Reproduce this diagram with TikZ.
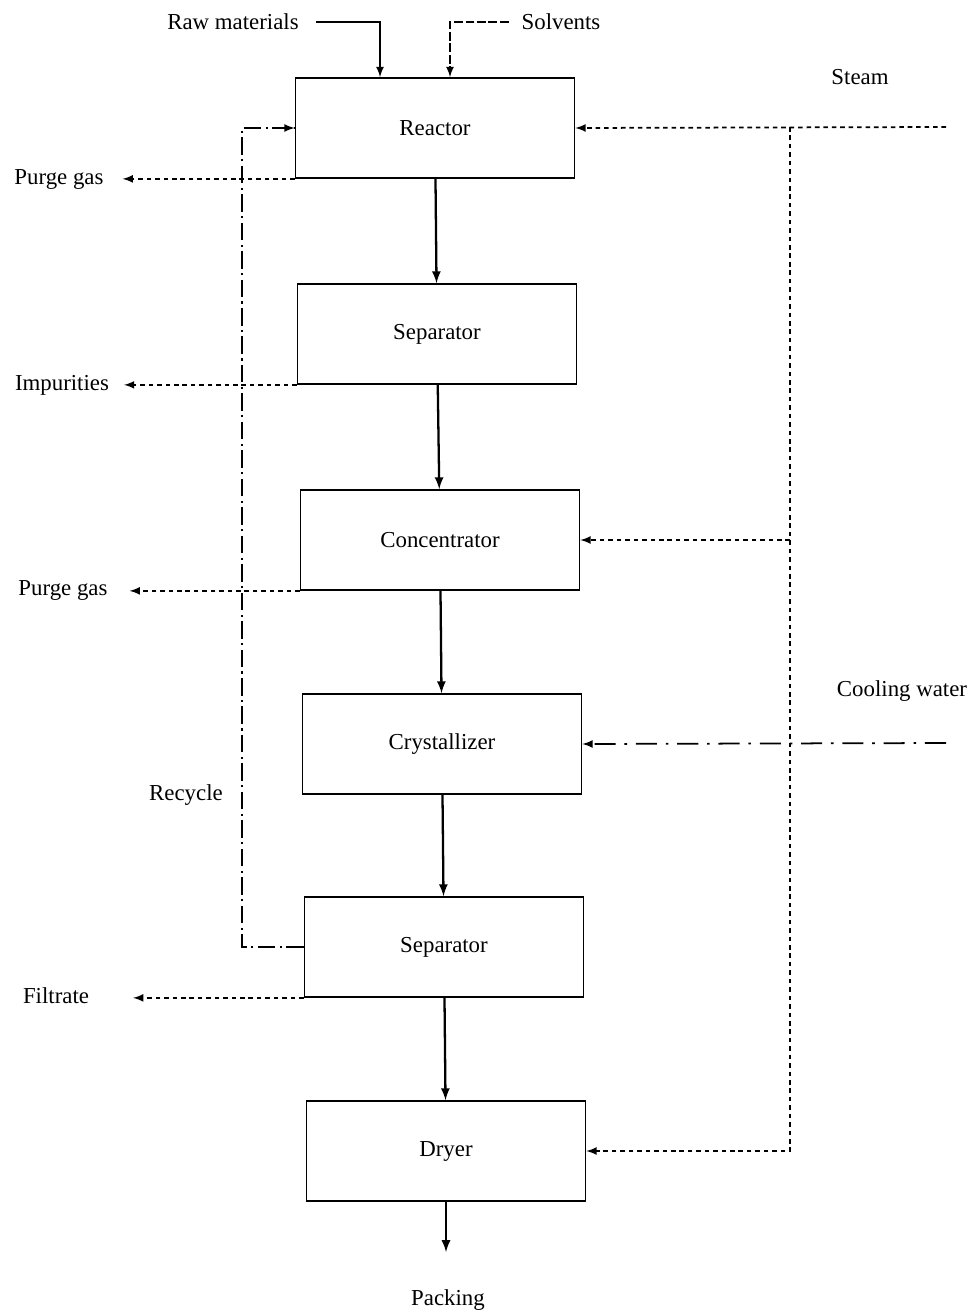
\documentclass[tikz,border=0pt]{standalone}
\usepackage{fontspec}
\setmainfont{Liberation Serif}
\usetikzlibrary{arrows}
\tikzset{
      unit/.style={draw=black, line width=1.0, minimum width=5.58cm, minimum height=2.0cm,
            font=\fontsize{13}{15}\selectfont},
      lbl/.style={font=\fontsize{13}{15}\selectfont, inner sep=1pt},
      flow/.style={draw=black, line width=1.3, -latex},
      feed/.style={draw=black, line width=1.0, -latex},
      sfeed/.style={draw=black, line width=1.0, dash pattern=on 5pt off 1.5pt, -latex},
      steamline/.style={draw=black, line width=1.0, dash pattern=on 2.6pt off 2.2pt, -latex},
      waste/.style={draw=black, line width=1.0, dash pattern=on 2.6pt off 2.2pt, -latex},
      coolline/.style={draw=black, line width=1.0, dash pattern=on 12pt off 5pt on 1.5pt off 5pt, -latex},
      recycleline/.style={draw=black, line width=1.0, dash pattern=on 10pt off 2.5pt on 1.2pt off 2.5pt},
}
\begin{document}
\begin{tikzpicture}[x=0.02cm, y=-0.02cm]
        \useasboundingbox (0,0) rectangle (974,1314);

        % Draw the process units
        \node[unit] (reactor) at (435,128) {Reactor};
        \node[unit] (sepA)    at (437,334) {Separator};
        \node[unit] (conc)    at (440,540) {Concentrator};
        \node[unit] (cryst)   at (442,744) {Crystallizer};
        \node[unit] (sepB)    at (444,947) {Separator};
        \node[unit] (dryer)   at (446,1151) {Dryer};

        % Labels
        \node[lbl] (raw)    at (233,22)  {Raw materials};
        \node[lbl] (solv)   at (561,22)  {Solvents};
        \node[lbl] (steam)  at (860,77)  {Steam};
        \node[lbl] (cool)   at (902,691) {Cooling water};
        \node[lbl] (purgeA) at (59,179)  {Purge gas};
        \node[lbl] (impur)  at (62,385)  {Impurities};
        \node[lbl] (purgeB) at (63,590)  {Purge gas};
        \node[lbl] (filt)   at (56,996)  {Filtrate};
        \node[lbl] (recyc)  at (186,795) {Recycle};
        \node[lbl] (pack)   at (448,1300) {Packing};

        \coordinate (steamin) at (946,127);
        \coordinate (coolin)  at (946,743);
        \coordinate (jsteam)  at (790,127);
        \coordinate (jrec)    at (242,947);
        \coordinate (packout) at (446,1252);

        % Feeds
        \draw[feed] ([xshift=0.3cm]raw.east) -| ([xshift=-1.1cm]reactor.north);
        \draw[sfeed] ([xshift=-0.22cm]solv.west) -| ([xshift=0.3cm]reactor.north);

        % Main product line
        \draw[flow] (reactor) -- (sepA);
        \draw[flow] (sepA) -- (conc);
        \draw[flow] (conc) -- (cryst);
        \draw[flow] (cryst) -- (sepB);
        \draw[flow] (sepB) -- (dryer);
        \draw[flow] (dryer) -- (packout);

        % Steam
        \draw[steamline] (steamin) -- (reactor.east);
        \draw[steamline] (jsteam) |- (dryer.east);
        \draw[steamline] (jsteam |- conc.east) -- (conc.east);

        % Cooling water
        \draw[coolline] (coolin) -- (cryst.east);

        % Off streams
        \draw[waste] (reactor.south west) -- ([xshift=0.34cm]purgeA.east |- reactor.south west);
        \draw[waste] (sepA.south west) -- ([xshift=0.26cm]impur.east |- sepA.south west);
        \draw[waste] (conc.south west) -- ([xshift=0.4cm]purgeB.east |- conc.south west);
        \draw[waste] (sepB.south west) -- ([xshift=0.84cm]filt.east |- sepB.south west);

        % Recycle
        \draw[recycleline] (sepB.west) -- (jrec) |- (reactor.west);
        \draw[-latex, line width=1.0] ([xshift=-0.2cm]reactor.west) -- (reactor.west);

    \end{tikzpicture}
\end{document}
